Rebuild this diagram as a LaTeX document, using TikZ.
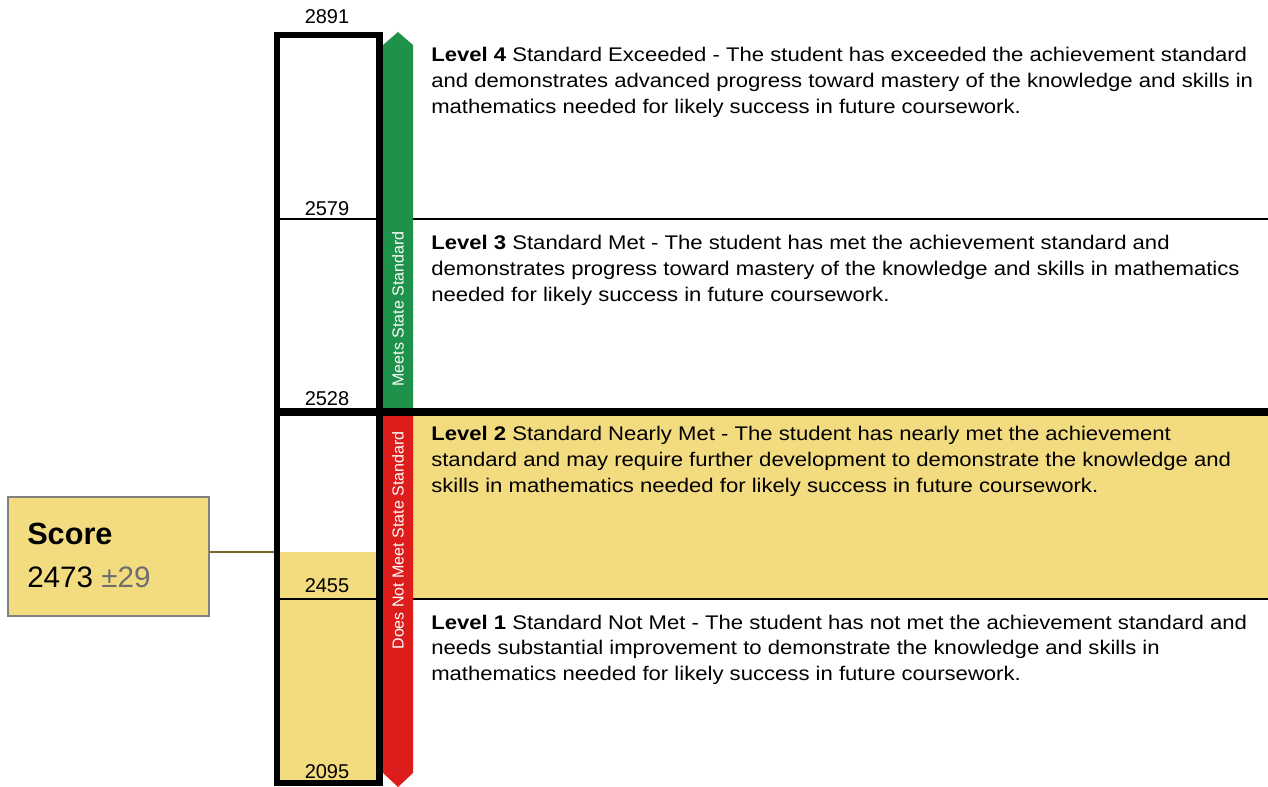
\documentclass[tikz,border=0pt]{standalone}
\usepackage{fontspec}
\setmainfont{Liberation Sans}
\newfontfamily\descfont[FakeStretch=1.12]{Liberation Sans}
\definecolor{lvlgreen}{RGB}{30,146,74}
\definecolor{lvlred}{RGB}{221,28,28}
\definecolor{lvlyellow}{RGB}{243,220,128}
\definecolor{boxgray}{RGB}{128,128,128}
\definecolor{linkbrown}{RGB}{122,104,40}
\definecolor{pmgray}{RGB}{110,110,110}
\tikzset{
  desc/.style={anchor=base west, inner sep=0pt, font=\descfont\fontsize{14.8}{17}\selectfont},
  cut/.style={anchor=base, inner sep=0pt, font=\fontsize{15}{17}\selectfont},
  thinrule/.style={line width=1.3pt, black},
  vlabel/.style={rotate=90, text=white, inner sep=0pt, font=\fontsize{12}{14}\selectfont}
}
\begin{document}
\begin{tikzpicture}[x=0.75pt,y=-0.75pt]
\useasboundingbox (0,0) rectangle (1268,787);
% yellow band for level 2
\fill[lvlyellow] (413,416) rectangle (1268,598);
% yellow fill in bar up to score
\fill[lvlyellow] (280,552) rectangle (376,781);
% thin rules
\draw[thinrule] (277,219) -- (1268,219);
\draw[thinrule] (277,599) -- (1268,599);
% arrows
\fill[lvlgreen] (383,412) -- (383,45) -- (398,32) -- (413,45) -- (413,412) -- cycle;
\fill[lvlred] (383,412) -- (383,773) -- (398,787) -- (413,773) -- (413,412) -- cycle;
% thick divider
\draw[line width=6pt] (274,412) -- (1268,412);
% bar border
\draw[line width=4.6pt] (277,35) rectangle (379.5,783);
% cut scores
\node[cut] (c2891) at (327,24) {2891};
\node[cut] (c2579) at (327,216) {2579};
\node[cut] (c2528) at (327,406) {2528};
\node[cut] (c2455) at (327,593) {2455};
\node[cut] (c2095) at (327,778) {2095};
% vertical labels
\node[vlabel] (meets) at (398,309) {Meets State Standard};
\node[vlabel] (notmeet) at (398,540.5) {Does Not Meet State Standard};
% level descriptions
\node[desc] (l4a) at (431,62) {\textbf{Level 4} Standard Exceeded - The student has exceeded the achievement standard};
\node[desc] (l4b) at (431,88) {and demonstrates advanced progress toward mastery of the knowledge and skills in};
\node[desc] (l4c) at (431,114) {mathematics needed for likely success in future coursework.};
\node[desc] (l3a) at (431,250) {\textbf{Level 3} Standard Met - The student has met the achievement standard and};
\node[desc] (l3b) at (431,276) {demonstrates progress toward mastery of the knowledge and skills in mathematics};
\node[desc] (l3c) at (431,302) {needed for likely success in future coursework.};
\node[desc] (l2a) at (431,441) {\textbf{Level 2} Standard Nearly Met - The student has nearly met the achievement};
\node[desc] (l2b) at (431,467) {standard and may require further development to demonstrate the knowledge and};
\node[desc] (l2c) at (431,493) {skills in mathematics needed for likely success in future coursework.};
\node[desc] (l1a) at (431,629) {\textbf{Level 1} Standard Not Met - The student has not met the achievement standard and};
\node[desc] (l1b) at (431,655) {needs substantial improvement to demonstrate the knowledge and skills in};
\node[desc] (l1c) at (431,681) {mathematics needed for likely success in future coursework.};
% score box
\node[draw=boxgray, line width=1.5pt, fill=lvlyellow, minimum width=201*0.75pt, minimum height=119*0.75pt, inner sep=0pt] (score) at (108,557) {};
\coordinate (barhit) at (274,552);
\draw[linkbrown, line width=1.5pt] (score.east |- barhit) -- (barhit);
\node[anchor=base west, inner sep=0pt, font=\fontsize{23}{26}\selectfont\bfseries] (scorelbl) at (27,545) {Score};
\node[anchor=base west, inner sep=0pt, font=\fontsize{22.2}{26}\selectfont] (scoreval) at (27,588) {2473 \textcolor{pmgray}{±29}};
\end{tikzpicture}
\end{document}
